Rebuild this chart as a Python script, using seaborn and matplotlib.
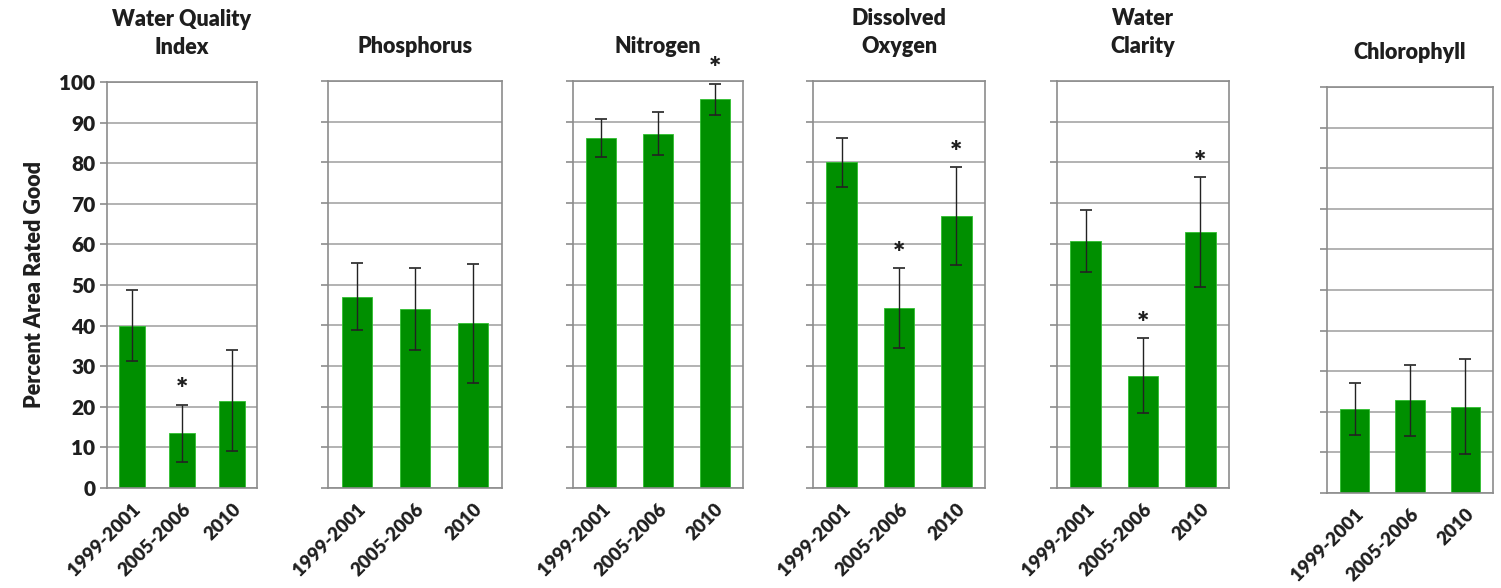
import matplotlib
matplotlib.use("Agg")
import matplotlib.pyplot as plt
import seaborn as sns
import pandas as pd
import numpy as np

sns.set_theme(style="white")
plt.rcParams['font.family'] = ['Lato', 'DejaVu Sans']

periods = ["1999-2001", "2005-2006", "2010"]
titles = ["Water Quality\nIndex", "Phosphorus", "Nitrogen", "Dissolved\nOxygen", "Water\nClarity", "Chlorophyll"]

wqi = [40.0, 13.5, 21.5]
phosphorus = [47.0, 44.0, 40.5]
nitrogen = [86.0, 87.0, 95.5]
dissolved_oxygen = [80.0, 44.2, 66.8]
water_clarity = [60.7, 27.6, 62.8]
chlorophyll = [20.8, 22.8, 21.3]

wqi_err = [8.8, 7.0, 12.5]
phosphorus_err = [8.3, 10.0, 14.6]
nitrogen_err = [4.6, 5.3, 3.8]
dissolved_oxygen_err = [6.0, 9.8, 12.0]
water_clarity_err = [7.7, 9.2, 13.5]
chlorophyll_err = [6.4, 8.7, 11.8]

wqi_sig = [False, True, False]
phosphorus_sig = [False, False, False]
nitrogen_sig = [False, False, True]
dissolved_oxygen_sig = [False, True, True]
water_clarity_sig = [False, True, True]
chlorophyll_sig = [False, False, False]

values = [wqi, phosphorus, nitrogen, dissolved_oxygen, water_clarity, chlorophyll]
errors = [wqi_err, phosphorus_err, nitrogen_err, dissolved_oxygen_err, water_clarity_err, chlorophyll_err]
sigs = [wqi_sig, phosphorus_sig, nitrogen_sig, dissolved_oxygen_sig, water_clarity_sig, chlorophyll_sig]

rows = []
for t, vals, errs, sg in zip(titles, values, errors, sigs):
    for p, v, e, s in zip(periods, vals, errs, sg):
        rows.append({"indicator": t, "period": p, "value": v, "err": e, "sig": s})
df = pd.DataFrame(rows)

W, H = 1501, 588
fig = plt.figure(figsize=(W / 100, H / 100), dpi=100)

# panel boxes in pixels: left, right, top, bottom
boxes = [(107, 257, 82, 488), (328, 502, 81, 488), (573, 743, 81, 488),
         (813, 985, 81, 488), (1057, 1229, 81, 488), (1327, 1493, 87, 493)]

green = "#008f00"
grid_c = "#a6a6a6"
spine_c = "#8c8c8c"
text_c = "#1e1e1e"

for i, (t, box) in enumerate(zip(titles, boxes)):
    l, r, tp, b = box
    ax = fig.add_axes([l / W, 1 - b / H, (r - l) / W, (b - tp) / H])
    sub = df[df["indicator"] == t]
    sns.barplot(data=sub, x="period", y="value", color=green, width=0.53,
                edgecolor="#2fc02f", linewidth=0.6, saturation=1, ax=ax, errorbar=None)
    xs = np.arange(len(sub))
    ax.errorbar(xs, sub["value"], yerr=sub["err"], fmt="none", ecolor="#222222",
                elinewidth=1.0, capsize=4, capthick=1.2, zorder=5)
    for x, v, e, s in zip(xs, sub["value"], sub["err"], sub["sig"]):
        if s:
            ax.annotate("*", (x, v + e), xytext=(0, 1), textcoords="offset points",
                        ha="center", va="bottom", fontsize=21, fontweight="heavy",
                        color=text_c, annotation_clip=False)
    ax.set_ylim(0, 100)
    ax.set_xlim(-0.5, 2.5)
    ax.set_yticks(np.arange(0, 101, 10))
    ax.yaxis.grid(True, color=grid_c, linewidth=1.2)
    ax.set_axisbelow(True)
    for sp in ax.spines.values():
        sp.set_color(spine_c)
        sp.set_linewidth(1.2)
    ax.set_xticks(xs)
    ax.set_xticklabels(periods, rotation=45, ha="right", rotation_mode="anchor",
                       fontsize=13.5, fontweight="heavy", color=text_c)
    ax.set_xticks([-0.5, 0.5, 1.5, 2.5], minor=True)
    ax.tick_params(axis="x", which="major", length=0, pad=9)
    ax.tick_params(axis="x", which="minor", length=5, color=spine_c, width=1.2, direction="out")
    ax.tick_params(axis="y", length=5, color=spine_c, width=1.2, direction="out", left=True)
    ax.set_xlabel("")
    if i == 0:
        ax.set_yticklabels([str(v) for v in range(0, 101, 10)], fontsize=15,
                           fontweight="heavy", color=text_c)
        ax.set_ylabel("Percent Area Rated Good", fontsize=15.5, fontweight="heavy",
                      color=text_c, labelpad=10)
    else:
        ax.set_yticklabels([])
        ax.set_ylabel("")
    ax.set_title(t, fontsize=15.5, fontweight="heavy", color=text_c, pad=20,
                 linespacing=1.4)

fig.savefig("out.png", dpi=100, facecolor="white")
